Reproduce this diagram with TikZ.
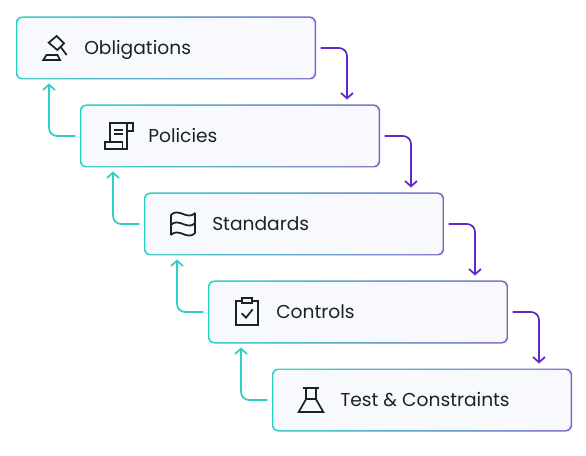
\documentclass[tikz,border=0pt]{standalone}
\usepackage{fontspec}
\setmainfont{Poppins}
\usepackage{xcolor}
\usetikzlibrary{arrows.meta, positioning, calc}

\definecolor{tealline}{HTML}{2CCFC6}
\definecolor{midline}{HTML}{82CDE3}
\definecolor{purpline}{HTML}{7A68C6}
\definecolor{flowpurple}{HTML}{6327CC}
\definecolor{boxfill}{HTML}{F8F9FC}
\definecolor{inkdark}{HTML}{1B2227}

\tikzset{
icon/.style={line width=1.3pt, draw=inkdark, line join=miter},
pics/gavel/.style={code={
\draw[icon] (-11.7,12) -- (5,12) -- (2.5,7) -- (-8.5,7) -- cycle;
\draw[icon] (1.7,-12) -- (9,-4.7) -- (2.3,2) -- (-6.3,-5.3) -- cycle;
\draw[icon] (5.5,-1.3) -- (11.7,7);
}},
pics/scroll/.style={code={
\draw[icon] (-9,5.7) -- (-9,-13.3) -- (13.7,-13.3) -- (13.7,-5.3) -- (7.7,-5.3);
\draw[icon] (7.7,-13.3) -- (7.7,13.3) -- (-13.7,13.3) -- (-13.7,5.7) -- (3.5,5.7) -- (3.5,13.3);
\draw[icon] (-5,-6) -- (4.3,-6);
\draw[icon] (-5,-1.7) -- (4.3,-1.7);
}},
pics/wavyflag/.style={code={
\draw[icon] (-12.3,-9) -- (-12.3,11);
\draw[icon] (12.3,-11) -- (12.3,9);
\foreach \dy in {0,10,20}
\draw[icon] (-12.3,-9+\dy) .. controls (-4,-17+\dy) and (4,-3+\dy) .. (12.3,-11+\dy);
}},
pics/clipboard/.style={code={
\draw[icon] (-11,-11) rectangle (11.3,13);
\draw[icon, fill=boxfill] (-4.7,-13.7) rectangle (4.7,-8.7);
\draw[icon] (-5.3,1.3) -- (-1,5.7) -- (5.7,-2.7);
}},
pics/flask/.style={code={
\draw[icon] (-8.3,-11.7) -- (8,-11.7);
\draw[icon] (-5,-11.7) -- (-5,-0.7) -- (-12.3,12) -- (12.3,12) -- (5,-0.7) -- (5,-11.7);
\draw[icon] (-5,-0.7) -- (5,-0.7);
}}
}

\begin{document}
\begin{tikzpicture}[
x=0.75pt, y=-0.75pt,
node distance=18.75pt,
box/.style={rectangle, rounded corners=4.5pt, minimum width=225pt, minimum height=47.25pt,
 outer sep=0pt, inner sep=0pt, left color=tealline, middle color=midline, right color=purpline,
 path picture={\fill[boxfill, rounded corners=3.6pt]
 ($(path picture bounding box.south west)+(1.1pt,1.1pt)$) rectangle
 ($(path picture bounding box.north east)+(-1.1pt,-1.1pt)$);}},
caption/.style={anchor=west, font=\fontsize{14pt}{17pt}\selectfont, text=inkdark, inner sep=0pt,
 text height=10.5pt, text depth=3pt, yshift=-1pt},
flowup/.style={draw=tealline, line width=1.3pt, rounded corners=6pt, -{Straight Barb[length=4pt, width=9pt]}},
flowdown/.style={draw=flowpurple, line width=1.3pt, rounded corners=6pt, -{Straight Barb[length=4pt, width=9pt]}}
]

\path[use as bounding box, fill=white] (0,0) rectangle (586,456);

\node[box] (obligations) at (166,48) {};
\node[box, below=of obligations, xshift=48pt] (policies) {};
\node[box, below=of policies, xshift=48pt] (standards) {};
\node[box, below=of standards, xshift=48pt] (controls) {};
\node[box, below=of controls, xshift=48pt] (tests) {};

\node[caption] (obligationstext) at ([xshift=51pt]obligations.west) {Obligations};
\node[caption] (policiestext) at ([xshift=51pt]policies.west) {Policies};
\node[caption] (standardstext) at ([xshift=51pt]standards.west) {Standards};
\node[caption] (controlstext) at ([xshift=51pt]controls.west) {Controls};
\node[caption] (teststext) at ([xshift=51pt]tests.west) {Test \& Constraints};

\pic at ([xshift=29.25pt]obligations.west) {gavel};
\pic at ([xshift=29.25pt]policies.west) {scroll};
\pic at ([xshift=29.25pt]standards.west) {wavyflag};
\pic at ([xshift=29.25pt]controls.west) {clipboard};
\pic at ([xshift=29.25pt]tests.west) {flask};

\draw[flowdown] ([xshift=3.4pt]obligations.east) -| ([shift={(-33,-5)}]policies.north east);
\draw[flowdown] ([xshift=3.4pt]policies.east) -| ([shift={(-33,-5)}]standards.north east);
\draw[flowdown] ([xshift=3.4pt]standards.east) -| ([shift={(-33,-5)}]controls.north east);
\draw[flowdown] ([xshift=3.4pt]controls.east) -| ([shift={(-33,-5)}]tests.north east);

\draw[flowup] ([xshift=-3.4pt]policies.west) -| ([shift={(33,4)}]obligations.south west);
\draw[flowup] ([xshift=-3.4pt]standards.west) -| ([shift={(33,4)}]policies.south west);
\draw[flowup] ([xshift=-3.4pt]controls.west) -| ([shift={(33,4)}]standards.south west);
\draw[flowup] ([xshift=-3.4pt]tests.west) -| ([shift={(33,4)}]controls.south west);

\end{tikzpicture}
\end{document}
